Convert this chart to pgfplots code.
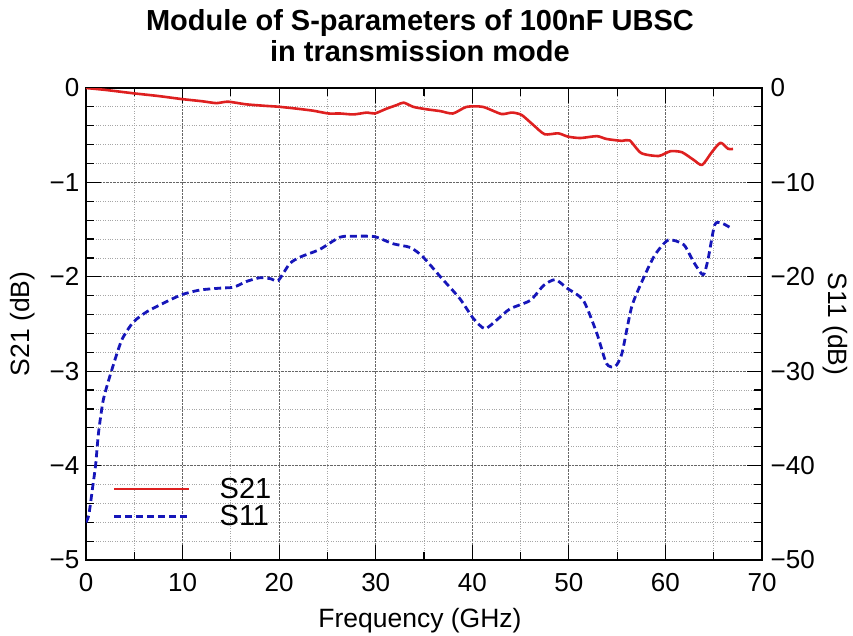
\documentclass[border=0pt]{standalone}
\usepackage{pgfplots}
\pgfplotsset{compat=1.18}
\usepackage{fontspec}
\setmainfont{Liberation Sans}
\definecolor{sred}{RGB}{222,32,32}
\definecolor{sblue}{RGB}{22,22,185}
\begin{document}
\begin{tikzpicture}
\path[use as bounding box] (-86pt,-75pt) rectangle (767pt,560pt);
\pgfplotsset{
 every axis/.append style={
  width=676pt, height=472pt, scale only axis,
  at={(0pt,0pt)}, anchor=south west,
  xmin=0, xmax=70,
  /pgf/number format/assume math mode=true,
  tick label style={font=\fontsize{26}{30}\selectfont, inner sep=1pt},
  label style={font=\fontsize{26.5}{30}\selectfont},
  tick align=inside,
  major tick length=15pt, minor tick length=8pt,
  every tick/.style={black, line width=1.2pt},
  axis line style={black, line width=1.4pt},
 }
}
\begin{axis}[
  ymin=-5, ymax=0,
  xtick={0,10,...,70}, minor x tick num=1,
  xticklabel style={yshift=-12.5pt},
  ytick={-5,-4,-3,-2,-1,0}, yticklabels={−5,−4,−3,−2,−1,0},
  yticklabel style={xshift=-5.5pt},
  minor y tick num=4,
  ytick pos=left,
  grid=both,
  major grid style={black!60, densely dotted, line width=0.9pt},
  minor grid style={black!35, dotted, line width=0.8pt},
  xlabel={Frequency (GHz)},
  xlabel style={at={(axis description cs:0.494,-0.144)}, anchor=base},
  ylabel={S21 (dB)},
  ylabel style={at={(axis description cs:-0.093,0.5)}, anchor=center, rotate=0},
  title={Module of S-parameters of 100nF UBSC\\in transmission mode},
  title style={font=\bfseries\fontsize{29}{31}\selectfont, align=center,
    at={(axis description cs:0.494,1.042)}, anchor=south, inner sep=0pt},
  legend style={draw=none, fill=none, at={(axis description cs:0.035,0.182)}, anchor=north west,
    font=\fontsize{29}{33}\selectfont, row sep=1.5pt, nodes={inner sep=2pt},
    /tikz/every odd column/.append style={column sep=27pt}},
  legend cell align=left,
  legend image code/.code={\draw[#1] (0pt,0pt) -- (75pt,0pt);},
]
\addplot[sred, line width=2.6pt, line join=round, smooth, tension=0.4] coordinates {
(0,0) (2,-0.02) (4.9,-0.056) (7.5,-0.085) (9.9,-0.117) (12,-0.14) (13.5,-0.16) (14.7,-0.145)
(16.6,-0.173) (18.7,-0.19) (19.9,-0.198) (21.5,-0.215) (23.5,-0.24) (25.1,-0.27) (26.3,-0.27)
(27.7,-0.28) (29.1,-0.26) (29.9,-0.27) (31.1,-0.22) (32.2,-0.18) (32.9,-0.155) (33.9,-0.2)
(35.3,-0.226) (36.7,-0.245) (38.0,-0.27) (39.4,-0.2) (41.1,-0.2) (43.0,-0.275) (44.1,-0.26)
(45.1,-0.285) (46.3,-0.39) (47.5,-0.49) (48.9,-0.48) (49.9,-0.515) (51.2,-0.53) (52.9,-0.51)
(53.9,-0.54) (55.5,-0.56) (56.3,-0.555) (57.5,-0.69) (59.3,-0.72) (60.5,-0.67) (61.7,-0.68)
(62.9,-0.76) (63.8,-0.815) (64.8,-0.68) (65.7,-0.58) (66.5,-0.645) (67.0,-0.645)
};
\addlegendentry{S21}
\addlegendimage{sblue, line width=2.8pt, dash pattern=on 7pt off 4pt}
\addlegendentry{S11}
\end{axis}
\begin{axis}[
  ymin=-50, ymax=0,
  axis y line*=right, hide x axis,
  ytick={-50,-40,-30,-20,-10,0}, yticklabels={−50,−40,−30,−20,−10,0},
  yticklabel style={xshift=7.5pt},
  minor y tick num=4,
  ylabel={S11 (dB)},
  ylabel style={at={(axis description cs:1.108,0.5)}, anchor=center, rotate=180},
]
\addplot[sblue, line width=2.8pt, dash pattern=on 7pt off 4pt, line join=round, smooth, tension=0.4] coordinates {
(0,-46) (0.3,-45.2) (0.7,-42.2) (1.0,-39.9) (1.3,-36.5) (1.8,-33.0) (2.66,-29.9) (3.7,-26.7)
(4.9,-24.8) (6.3,-23.7) (8.0,-22.8) (9.9,-21.9) (11.8,-21.4) (13.9,-21.2) (15.3,-21.1)
(16.6,-20.5) (18.0,-20.1) (19.1,-20.2) (19.9,-20.4) (21.1,-18.6) (22.2,-17.9) (24.2,-17.1)
(26.3,-15.8) (28.0,-15.7) (29.9,-15.75) (31.8,-16.5) (33.6,-16.9) (34.9,-17.9) (36.7,-20.0)
(38.7,-22.3) (40.1,-24.4) (41.3,-25.5) (42.5,-24.6) (43.9,-23.4) (46.0,-22.5) (47.4,-20.9)
(48.6,-20.3) (49.8,-21.2) (51.5,-22.5) (52.9,-26.0) (53.9,-29.2) (54.8,-29.5) (55.5,-28.1)
(56.5,-23.2) (57.7,-20.2) (58.9,-17.7) (60.3,-16.1) (61.9,-16.6) (62.9,-18.4) (63.9,-19.8)
(64.4,-18.2) (65.1,-14.5) (65.8,-14.3) (66.9,-14.9)
};
\end{axis}
\end{tikzpicture}
\end{document}
